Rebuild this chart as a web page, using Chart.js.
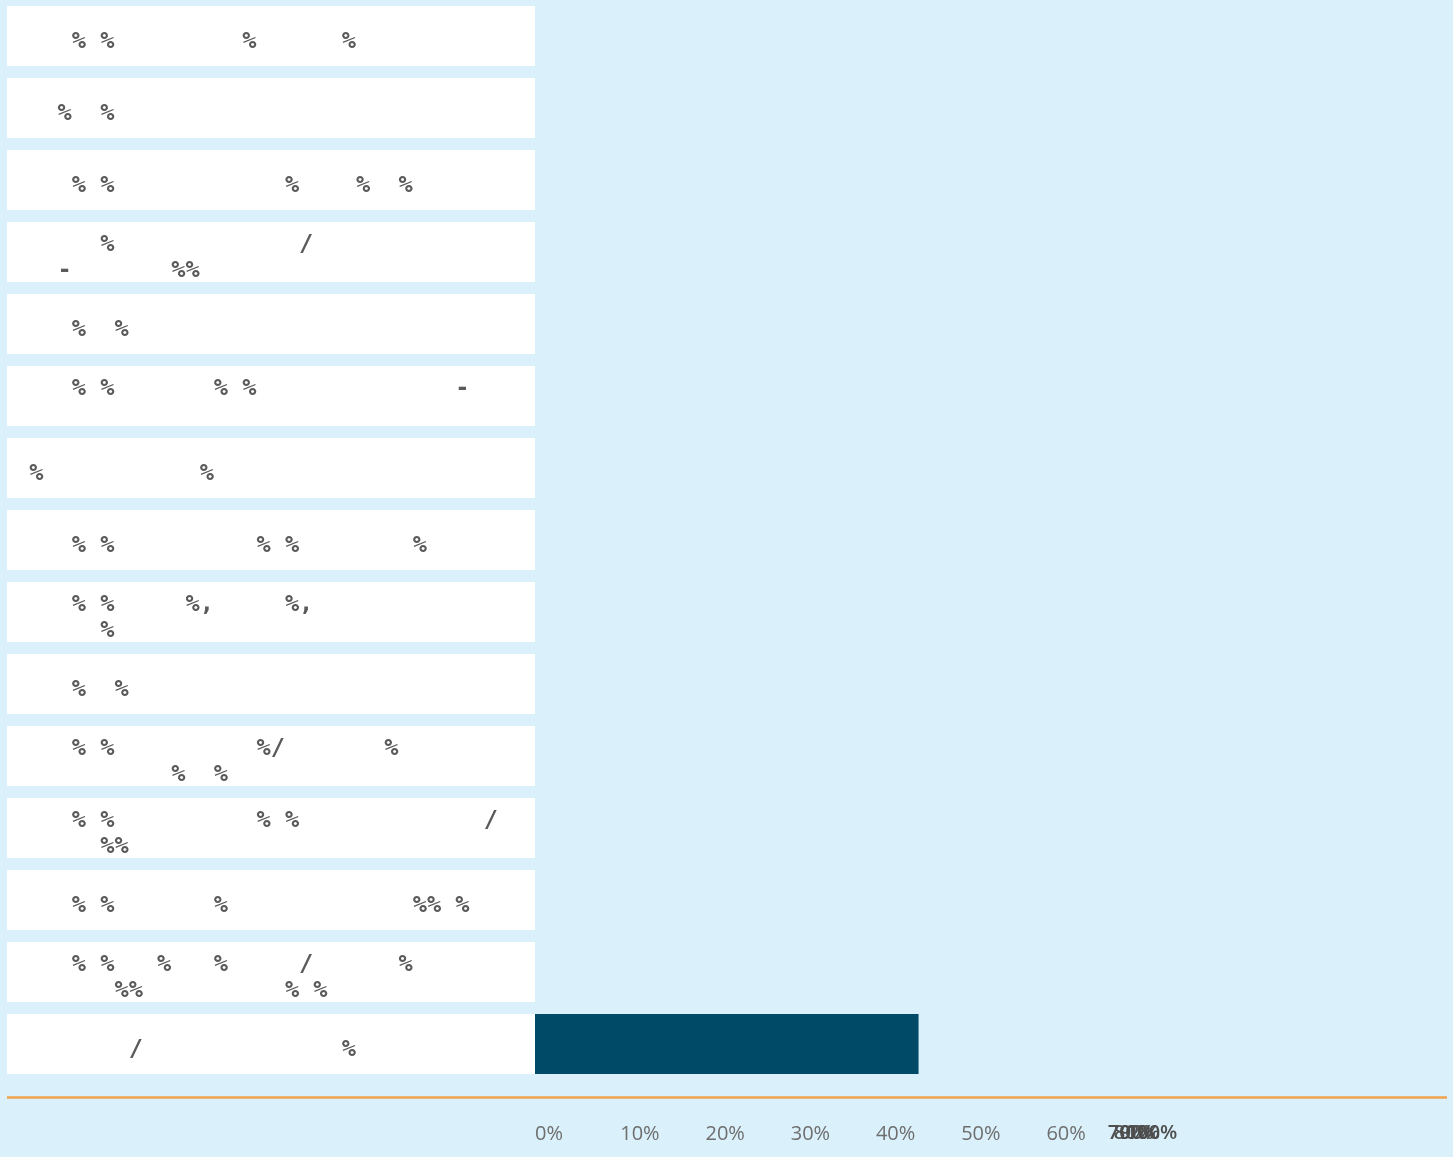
<!DOCTYPE html>
<html>
<head>
<meta charset="utf-8">
<script src="https://cdn.jsdelivr.net/npm/chart.js@4"></script>
<style>
  html, body { margin: 0; padding: 0; background: #daf0fb; }
  #wrap { width: 1453px; height: 1157px; }
</style>
</head>
<body>
<div id="wrap"><canvas id="shareChart" width="1453" height="1157"></canvas></div>
<script>
// only the punctuation of the row labels survived in the picture
const categories = [
  '    % %         %      %',
  '   %  %',
  '    % %            %    %  %',
  ['      %             /', '   -       %%'],
  '    %  %',
  ['    % %       % %              -', ' '],
  ' %           %',
  '    % %          % %        %',
  ['    % %     %,     %,', '      %'],
  '    %  %',
  ['    % %          %/       %', '           %  %'],
  ['    % %          % %             /', '      %%'],
  '    % %       %             %% %',
  ['    % %   %   %     /      %', '       %%          % %'],
  '        /              %',
];
const shares = [0, 0, 0, 0, 0, 0, 0, 0, 0, 0, 0, 0, 0, 0, 45];
const shownTicks = [0, 10, 20, 30, 40, 50, 60];
const crammedTicks = ['70%', '80%', '90%', '100%'];

const BAR = '#004a68';
const ORANGE = '#f0a24c';
const TEXT = '#5a5a5a';
const TICK = '#6e6e6e';

function noPadding(scale) {
  scale.paddingTop = 0;
  scale.paddingBottom = 0;
  scale.paddingLeft = 0;
  scale.paddingRight = 0;
}

// white label cells behind every category + orange rule under the rows
const rowCells = {
  id: 'rowCells',
  beforeDraw(chart) {
    const { ctx, chartArea, scales } = chart;
    const y = scales.y;
    const left = y.left - 8;
    const band = (y.bottom - y.top) / categories.length;
    const h = band - 12;
    ctx.save();
    ctx.fillStyle = '#ffffff';
    categories.forEach((c, i) => {
      const cy = y.getPixelForTick(i);
      ctx.fillRect(left, cy - h / 2, chartArea.left - left, h);
    });
    ctx.strokeStyle = ORANGE;
    ctx.lineWidth = 2.5;
    ctx.beginPath();
    ctx.moveTo(left, chartArea.bottom + 17.5);
    ctx.lineTo(chartArea.right, chartArea.bottom + 17.5);
    ctx.stroke();
    ctx.restore();
  },
  afterDraw(chart) {
    // the overlapping tick labels right of 60%
    const { ctx, scales } = chart;
    const x = scales.x;
    const base = x.getPixelForValue(67.2);
    ctx.save();
    ctx.font = '600 20px "Open Sans"';
    ctx.fillStyle = '#4e4e4e';
    ctx.textBaseline = 'middle';
    ctx.textAlign = 'left';
    const offs = [0, 6, 12, 18];
    crammedTicks.forEach((t, i) => {
      ctx.fillText(t, base + offs[i], x.top + 53);
    });
    ctx.restore();
  },
};

const ctx = document.getElementById('shareChart').getContext('2d');

new Chart(ctx, {
  type: 'bar',
  data: {
    labels: categories,
    datasets: [{
      data: shares,
      backgroundColor: BAR,
      borderWidth: 0,
      categoryPercentage: 1,
      barPercentage: 0.834,
    }],
  },
  options: {
    indexAxis: 'y',
    responsive: false,
    animation: false,
    layout: { padding: { left: 15, right: 6, top: 0, bottom: 0 } },
    plugins: {
      legend: { display: false },
      tooltip: { enabled: false },
    },
    scales: {
      y: {
        grid: { display: false, drawTicks: false },
        border: { display: false },
        afterFit: (scale) => { scale.width = 520; noPadding(scale); },
        ticks: {
          autoSkip: false,
          crossAlign: 'far',
          labelOffset: 6,
          color: TEXT,
          font: { family: 'DejaVu Sans Mono', size: 23.6, weight: 'bold', lineHeight: 1.1 },
        },
      },
      x: {
        min: 0,
        max: 107,
        grid: { display: false, drawTicks: false },
        border: { display: false },
        afterFit: (scale) => { scale.height = 77; noPadding(scale); },
        ticks: {
          stepSize: 10,
          align: 'start',
          maxRotation: 0,
          padding: 42,
          color: TICK,
          font: { family: 'Open Sans', size: 20 },
          callback: (v) => (shownTicks.includes(v) ? v + '%' : ''),
        },
      },
    },
  },
  plugins: [rowCells],
});
</script>
</body>
</html>
